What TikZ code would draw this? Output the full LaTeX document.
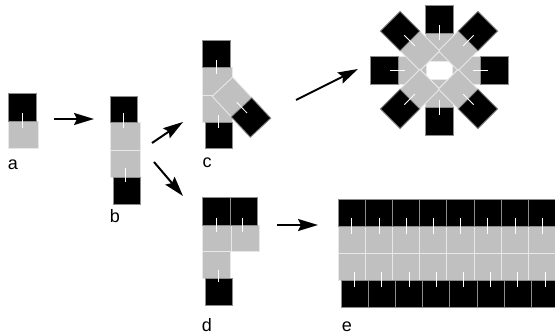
\documentclass[tikz,border=0pt]{standalone}
\usepackage{fontspec}
\setmainfont{Liberation Sans}
\usetikzlibrary{calc,arrows.meta}
\definecolor{gfill}{RGB}{192,192,192}
\definecolor{gline}{RGB}{232,232,232}
\definecolor{bline}{RGB}{140,140,140}
\begin{document}
\begin{tikzpicture}[x=1pt,y=-1pt,
  blk/.style={draw=bline,fill=black,line width=0.9pt,inner sep=0pt,outer sep=0pt,minimum width=27pt,minimum height=27pt},
  gry/.style={draw=gline,fill=gfill,line width=0.9pt,inner sep=0pt,outer sep=0pt,minimum width=27pt,minimum height=27pt},
  sz/.style 2 args={minimum width=#1pt,minimum height=#2pt},
  tick/.style={draw=white,line width=0.8pt},
  arr/.style={line width=2pt,-{Stealth[length=20pt,width=12pt,inset=3pt]}},
  lbl/.style={font=\fontsize{18}{20}\selectfont,anchor=base,inner sep=0pt}]
\useasboundingbox (0,0) rectangle (555,334);
% ---------- a ----------
\node[gry,sz={30}{27}] (a2) at (23,134.5) {};
\node[blk,sz={28}{28}] (a1) at (22,107) {};
\draw[tick] (22,113) -- (22,128);
\node[lbl] (la) at (13,170) {a};
% ---------- b ----------
\node[gry,sz={30}{28}] (b2) at (125,136) {};
\node[gry,sz={30}{27}] (b3) at (125,163.5) {};
\node[blk,sz={27}{26}] (b1) at (123.5,109) {};
\node[blk,sz={27}{27}] (b4) at (126.5,190.5) {};
\draw[tick] (123,113) -- (123,128);
\draw[tick] (125,168) -- (125,182);
\node[lbl] (lb) at (115,223) {b};
% ---------- c ----------
\node[gry,sz={30}{28}] (c2) at (217,81) {};
\node[gry,sz={30}{27}] (c3) at (217,108.5) {};
\node[blk,sz={28}{27}] (c1) at (216,53.5) {};
\node[blk,sz={27}{26}] (c4) at (218.5,135) {};
\node[gry,sz={28}{28},rotate=-47] (c5) at (232,97) {};
\node[blk,sz={28}{28},rotate=-47] (c6) at (251,117.5) {};
\draw[tick] (216,60) -- (216,74);
\draw[tick] (218,115) -- (218,128);
\draw[tick] (236.7,102.1) -- (247,113);
\node[lbl] (lc) at (207,168) {c};
% ---------- ring ----------
\coordinate (ctr) at (439,70);
\foreach \ang/\r in {0/27,90/23,180/27,270/23}
  \node[gry,sz={28}{28},rotate=\ang] (rg\ang) at ($(ctr)+(\ang:\r pt)$) {};
\foreach \ang/\r in {45/27,135/27,225/27,315/27}
  \node[gry,sz={28}{28},rotate=\ang] (rg\ang) at ($(ctr)+(\ang:\r pt)$) {};
\foreach \ang/\r in {0/27,45/27,90/23,135/27,180/27,225/27,270/23,315/27}{
  \node[blk,sz={28}{28},rotate=\ang] (rb\ang) at ($(ctr)+(\ang:\r pt+28pt)$) {};
  \draw[tick] ($(ctr)+(\ang:\r pt+7pt)$) -- ($(ctr)+(\ang:\r pt+22pt)$);
}
% ---------- d ----------
\node[gry,sz={29}{26}] (d3) at (216.5,238) {};
\node[gry,sz={28}{26}] (d4) at (245,238) {};
\node[gry,sz={28}{27}] (d5) at (216,264.5) {};
\node[blk,sz={28}{28}] (d1) at (216,211) {};
\node[blk,sz={27}{28}] (d2) at (243.5,211) {};
\node[blk,sz={27}{27}] (d6) at (218.5,291.5) {};
\draw[tick] (216,218) -- (216,232);
\draw[tick] (242,218) -- (242,232);
\draw[tick] (218,270) -- (218,282);
\node[lbl] (ld) at (207,331) {d};
% ---------- e ----------
\foreach \i in {0,...,7}{
  \node[gry,sz={27.2}{27}] (eg1\i) at (351.6+27.2*\i,239.5) {};
  \node[gry,sz={27.2}{27}] (eg2\i) at (351.6+27.2*\i,266.5) {};
}
\foreach \i in {0,...,7}{
  \node[blk,sz={27.2}{27}] (et\i) at (351.6+27.2*\i,212.5) {};
  \node[blk,sz={27.2}{27}] (eb\i) at (354.6+27.2*\i,293.5) {};
  \draw[tick] (351.7+27.2*\i,218) -- (351.7+27.2*\i,234);
  \draw[tick] (354.5+27.2*\i,272) -- (354.5+27.2*\i,287);
}
\node[lbl] (le) at (347,331) {e};
% ---------- arrows ----------
\coordinate (p1) at (54,119);  \coordinate (q1) at (94,119);
\coordinate (p2) at (152,143); \coordinate (q2) at (183,122);
\coordinate (p3) at (154,162); \coordinate (q3) at (183,196);
\coordinate (p4) at (296,100); \coordinate (q4) at (358,69);
\coordinate (p5) at (277,225); \coordinate (q5) at (318,225);
\draw[arr] (p1) -- (q1);
\draw[arr] (p2) -- (q2);
\draw[arr] (p3) -- (q3);
\draw[arr] (p4) -- (q4);
\draw[arr] (p5) -- (q5);
\end{tikzpicture}
\end{document}
